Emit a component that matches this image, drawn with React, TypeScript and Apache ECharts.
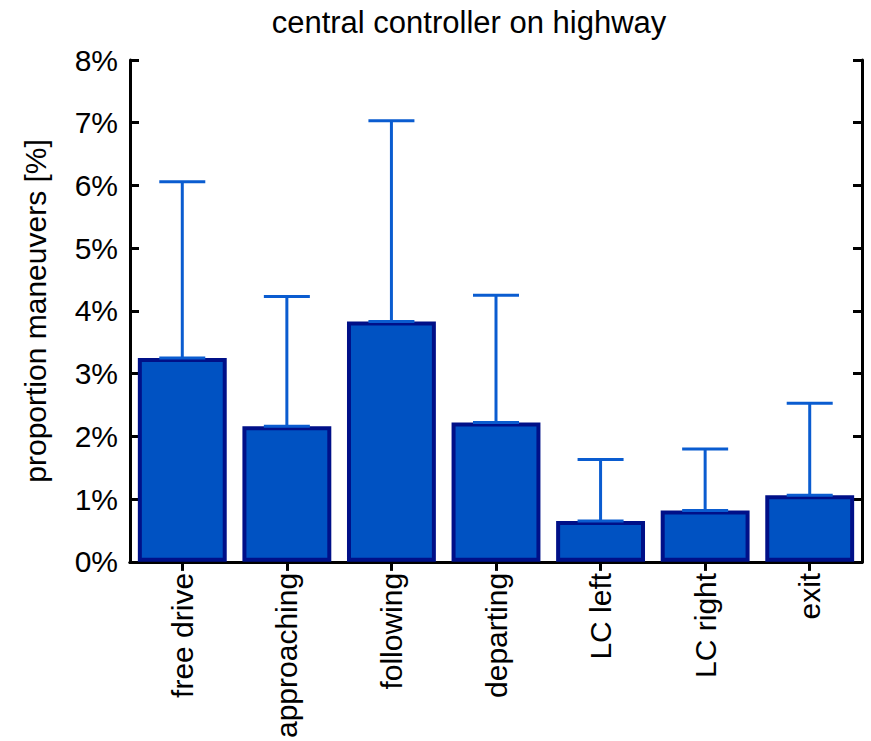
import React, { useEffect, useRef } from "react";
import * as echarts from "echarts";

const categories = ["free drive", "approaching", "following", "departing", "LC left", "LC right", "exit"];
const meanValues = [3.25, 2.16, 3.83, 2.22, 0.65, 0.82, 1.06];
const upperValues = [6.06, 4.23, 7.03, 4.25, 1.63, 1.8, 2.53];
const yTicks = [0, 1, 2, 3, 4, 5, 6, 7, 8];

const FONT = "Liberation Sans, Arial, sans-serif";
const BAR_FILL = "#0052c2";
const BAR_EDGE = "#001088";
const ERR_COLOR = "#0a5cd0";

export default function App() {
  const ref = useRef<HTMLDivElement>(null);

  useEffect(() => {
    document.body.style.margin = "0";
    const chart = echarts.init(ref.current!, null, { renderer: "svg" });

    const errData = categories.map((_, i) => [i, meanValues[i], upperValues[i]]);

    chart.setOption({
      animation: false,
      title: {
        text: "central controller on highway",
        left: 464,
        top: 2,
        textAlign: "center",
        textStyle: { fontFamily: FONT, fontSize: 31, fontWeight: "normal", color: "#000" },
      },
      grid: { left: 130, right: 9, top: 60, bottom: 179 },
      xAxis: [
        {
          type: "category",
          data: categories,
          position: "bottom",
          axisLine: { show: true, lineStyle: { color: "#000", width: 3 } },
          axisTick: { show: true, inside: true, alignWithLabel: true, length: 9, lineStyle: { color: "#000", width: 3 } },
          axisLabel: { rotate: 90, fontFamily: FONT, fontSize: 30, color: "#000", margin: 11 },
          splitLine: { show: false },
        },
        {
          type: "category",
          data: categories,
          position: "top",
          axisLine: { show: true, lineStyle: { color: "#000", width: 3 } },
          axisTick: { show: true, inside: true, alignWithLabel: true, length: 9, lineStyle: { color: "#000", width: 3 } },
          axisLabel: { show: false },
          splitLine: { show: false },
        },
      ],
      yAxis: [
        {
          type: "value",
          min: yTicks[0],
          max: yTicks[yTicks.length - 1],
          interval: 1,
          name: "proportion maneuvers [%]",
          nameLocation: "middle",
          nameGap: 80,
          nameTextStyle: { fontFamily: FONT, fontSize: 30, color: "#000" },
          axisLine: { show: true, lineStyle: { color: "#000", width: 3 } },
          axisTick: { show: true, inside: true, length: 9, lineStyle: { color: "#000", width: 3 } },
          axisLabel: { formatter: "{value}%", fontFamily: FONT, fontSize: 30, color: "#000", margin: 12 },
          splitLine: { show: false },
        },
        {
          type: "value",
          min: yTicks[0],
          max: yTicks[yTicks.length - 1],
          interval: 1,
          position: "right",
          axisLine: { show: true, lineStyle: { color: "#000", width: 3 } },
          axisTick: { show: true, inside: true, length: 9, lineStyle: { color: "#000", width: 3 } },
          axisLabel: { show: false },
          splitLine: { show: false },
        },
      ],
      series: [
        {
          type: "bar",
          data: meanValues,
          barWidth: "85%",
          itemStyle: { color: BAR_FILL, borderColor: BAR_EDGE, borderWidth: 4 },
          z: 2,
        },
        {
          type: "custom",
          data: errData,
          z: 3,
          renderItem: (params: any, api: any) => {
            const idx = api.value(0);
            const lo = api.coord([idx, api.value(1)]);
            const hi = api.coord([idx, api.value(2)]);
            const half = 23;
            const style = { stroke: ERR_COLOR, lineWidth: 3 };
            return {
              type: "group",
              children: [
                { type: "line", shape: { x1: lo[0], y1: lo[1], x2: hi[0], y2: hi[1] }, style },
                { type: "line", shape: { x1: hi[0] - half, y1: hi[1], x2: hi[0] + half, y2: hi[1] }, style },
                { type: "line", shape: { x1: lo[0] - half, y1: lo[1], x2: lo[0] + half, y2: lo[1] }, style },
              ],
            };
          },
        },
      ],
    });

    return () => chart.dispose();
  }, []);

  return <div ref={ref} style={{ width: 871, height: 741 }} />;
}
